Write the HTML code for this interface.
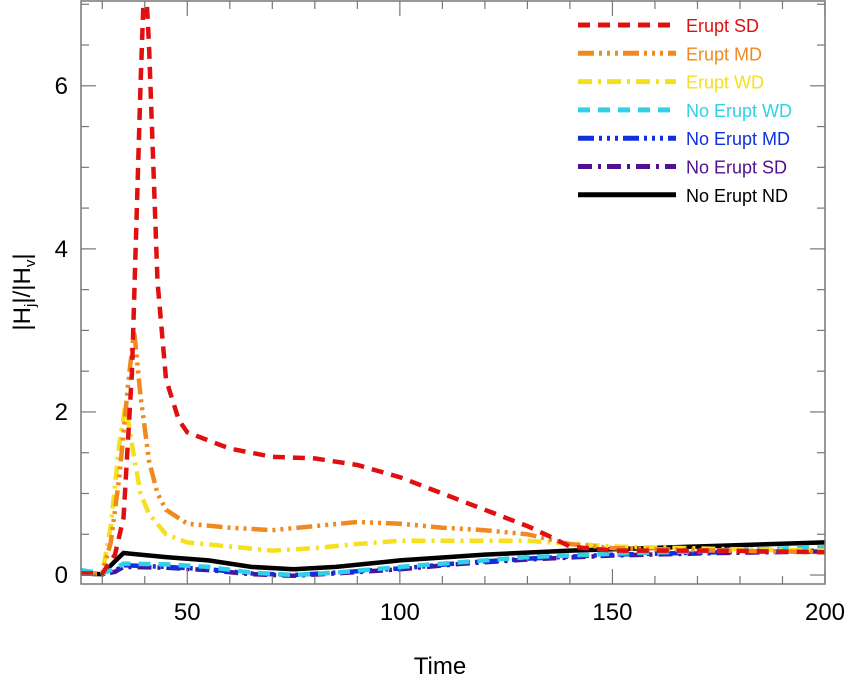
<!DOCTYPE html>
<html><head><meta charset="utf-8"><style>
body{margin:0;background:#fff}
svg text{font-family:"Liberation Sans",sans-serif}
</style></head><body>
<svg id="chart" width="850" height="681" xmlns="http://www.w3.org/2000/svg">
<defs><clipPath id="pc"><rect x="81" y="1" width="744" height="583"/></clipPath></defs>
<g id="series" clip-path="url(#pc)"></g>
<rect x="81" y="1" width="744" height="583" fill="none" stroke="#777" stroke-width="1.5"/>
<g id="axes"></g>
<text x="440" y="674" font-size="24" text-anchor="middle">Time</text>
<text transform="translate(30,292) rotate(-90)" font-size="24" text-anchor="middle">|H<tspan font-size="15" dy="5">j</tspan><tspan dy="-5">|/|H</tspan><tspan font-size="15" dy="5">v</tspan><tspan dy="-5">|</tspan></text>
<g id="legend"></g>
</svg>
<script>
const xTickLabels=[50,100,150,200];
const yTickLabels=[0,2,4,6];
const tEruptSD=[25,30,33,35,37,39,40,41,43,45,48,50,55,60,70,80,90,100,110,120,130,135,140,150,175,200];
const vEruptSD=[0.02,0.02,0.25,0.7,2.5,6.0,7.5,6.5,3.6,2.4,1.9,1.75,1.65,1.55,1.45,1.43,1.35,1.2,1.0,0.8,0.6,0.48,0.35,0.3,0.3,0.28];
const tEruptMD=[25,30,32,34,36,37.5,39,41,43,45,50,60,70,80,90,100,110,120,130,140,150,175,200];
const vEruptMD=[0.02,0.02,0.4,1.2,2.3,3.0,2.2,1.4,1.0,0.8,0.63,0.58,0.55,0.6,0.65,0.63,0.58,0.55,0.5,0.38,0.33,0.3,0.28];
const tEruptWD=[25,30,32,34,35.5,37,39,41,45,50,60,70,80,90,100,130,150,175,200];
const vEruptWD=[0.02,0.02,0.6,1.6,2.1,1.6,1.0,0.75,0.5,0.4,0.35,0.3,0.33,0.38,0.42,0.42,0.35,0.32,0.3];
const tNoWD=[25,30,33,35,45,55,65,75,85,100,115,130,150,175,200];
const vNoWD=[0.06,0.02,0.08,0.14,0.13,0.1,0.03,0.0,0.03,0.1,0.16,0.22,0.26,0.3,0.34];
const tNoMD=[25,30,33,35,45,55,65,75,85,100,115,130,150,175,200];
const vNoMD=[0.02,0.01,0.05,0.12,0.1,0.07,0.02,0.0,0.03,0.08,0.15,0.2,0.25,0.28,0.3];
const tNoSD=[25,30,33,35,45,55,65,75,85,100,115,130,150,175,200];
const vNoSD=[0.02,0.01,0.04,0.1,0.09,0.06,0.01,-0.01,0.02,0.07,0.14,0.19,0.24,0.27,0.29];
const tNoND=[25,30,33,35,45,55,65,75,85,100,120,140,170,200];
const vNoND=[0.02,0.01,0.17,0.27,0.22,0.18,0.1,0.07,0.1,0.18,0.25,0.3,0.35,0.4];
const X0=81,X1=825,Y0=584,Y1=1,xmin=25,xmax=200,ymin=-0.11,ymax=7.04;
const sx=v=>X0+(v-xmin)/(xmax-xmin)*(X1-X0);
const sy=v=>Y0-(v-ymin)/(ymax-ymin)*(Y0-Y1);
const NS="http://www.w3.org/2000/svg";
const series=[
 ["erupt-sd",tEruptSD,vEruptSD,"#e01010","12,8"],
 ["erupt-md",tEruptMD,vEruptMD,"#f08a20","16,5,3,5,3,5,3,5"],
 ["erupt-wd",tEruptWD,vEruptWD,"#f5e020","14,6,3,6"],
 ["no-erupt-wd",tNoWD,vNoWD,"#30d0e8","12,8"],
 ["no-erupt-md",tNoMD,vNoMD,"#1030e0","16,5,3,5,3,5,3,5"],
 ["no-erupt-sd",tNoSD,vNoSD,"#501090","14,6,3,6"],
 ["no-erupt-nd",tNoND,vNoND,"#000",""]];
const labels=["Erupt SD","Erupt MD","Erupt WD","No Erupt WD","No Erupt MD","No Erupt SD","No Erupt ND"];
const g=document.getElementById('series');
series.slice().reverse().forEach(s=>{
 const p=document.createElementNS(NS,'path');
 
 
 p.setAttribute('d',s[1].map((t,i)=>(i?'L':'M')+sx(t).toFixed(1)+','+sy(s[2][i]).toFixed(1)).join(''));
 p.setAttribute('fill','none');p.setAttribute('stroke',s[3]);p.setAttribute('stroke-width','4.5');
 if(s[4])p.setAttribute('stroke-dasharray',s[4]);
 g.appendChild(p);
});
const ax=document.getElementById('axes');
function ln(x1,y1,x2,y2,name){const l=document.createElementNS(NS,'line');
 
 
 l.setAttribute('x1',x1);l.setAttribute('y1',y1);l.setAttribute('x2',x2);l.setAttribute('y2',y2);l.setAttribute('stroke','#777');l.setAttribute('stroke-width','1.2');ax.appendChild(l);}
function tx(x,y,s,anchor,name){const t=document.createElementNS(NS,'text');
 
 
 t.setAttribute('x',x);t.setAttribute('y',y);t.setAttribute('font-size','24');t.setAttribute('text-anchor',anchor);t.textContent=s;ax.appendChild(t);}
for(let v=30;v<=200;v+=10){const big=v%50===0;ln(sx(v),Y0,sx(v),Y0-(big?15:8),'x-tick');ln(sx(v),Y1,sx(v),Y1+(big?15:8),'x-tick-top');}
xTickLabels.forEach(v=>tx(sx(v),620,String(v),'middle','x-tick-label'));
for(let v=0;v<=7;v+=0.5){const big=v%2===0;ln(X0,sy(v),X0+(big?15:8),sy(v),'y-tick');ln(X1,sy(v),X1-(big?15:8),sy(v),'y-tick-right');}
yTickLabels.forEach(v=>tx(68,sy(v)+8,String(v),'end','y-tick-label'));
const lg=document.getElementById('legend');
series.forEach((s,i)=>{const y=25+i*28.3;
 const l=document.createElementNS(NS,'line');
 
 
 l.setAttribute('x1',578);l.setAttribute('x2',676);l.setAttribute('y1',y);l.setAttribute('y2',y);
 l.setAttribute('stroke',s[3]);l.setAttribute('stroke-width','5');if(s[4])l.setAttribute('stroke-dasharray',s[4]);lg.appendChild(l);
 const t=document.createElementNS(NS,'text');
 
 
 t.setAttribute('x',686);t.setAttribute('y',y+7);t.setAttribute('font-size','18');t.setAttribute('fill',s[3]);t.textContent=labels[i];lg.appendChild(t);
});
</script>
</body></html>
